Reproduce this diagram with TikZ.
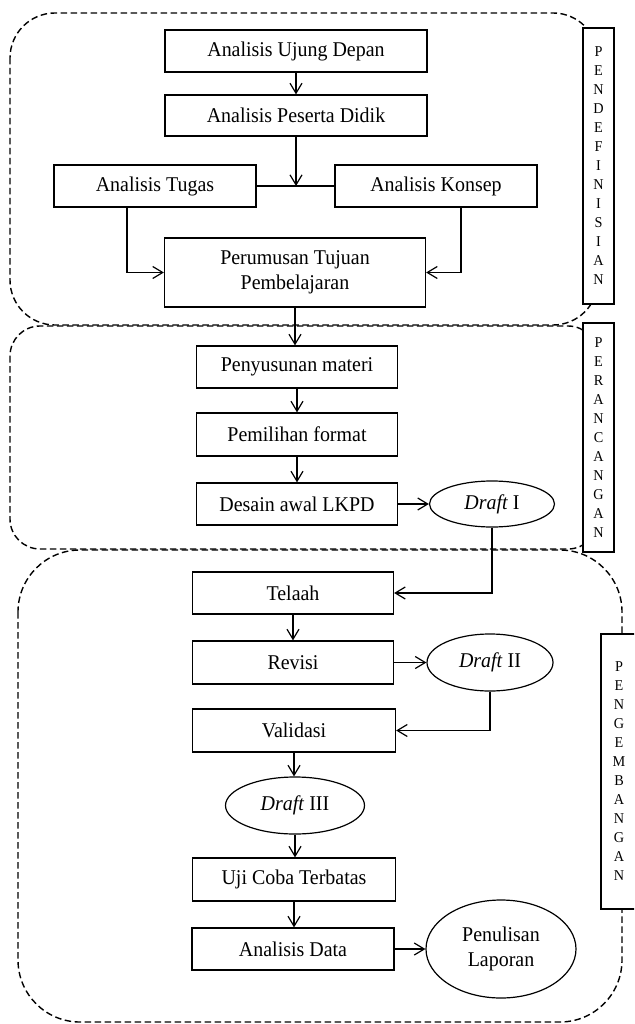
\documentclass[tikz,border=0pt]{standalone}
\usepackage{fontspec}
\setmainfont{Liberation Serif}[FakeStretch=0.95]
\usetikzlibrary{shapes.geometric,arrows.meta}
\begin{document}
\begin{tikzpicture}[x=1pt,y=-1pt,
  box/.style={draw,line width=1.2pt,fill=white,inner sep=0pt,font=\fontsize{21}{25}\selectfont,align=center},
  oval/.style={draw,ellipse,line width=1.2pt,fill=white,inner sep=0pt,font=\fontsize{21}{25}\selectfont,align=center},
  region/.style={draw,line width=1.4pt,dash pattern=on 6.5pt off 3.5pt},
  lab/.style={draw,line width=1.2pt,fill=white,inner sep=0pt,align=center,font=\fontsize{15}{19}\selectfont},
  arr/.style={line width=1.2pt,-{Straight Barb[length=10pt,width=12pt]}},
  ln/.style={line width=1.2pt}]
\clip (0,0) rectangle (634,1024);
\useasboundingbox (0,0) rectangle (634,1024);
% dashed regions
\draw[region,rounded corners=45pt] (10,13) rectangle (598,325);
\draw[region,rounded corners=30pt] (10,326) rectangle (598,549);
\draw[region,rounded corners=62pt] (18,550) rectangle (622,1022);
% side labels
\node[lab,minimum width=31pt,minimum height=276pt] (l1) at (598.5,166) {P\\E\\N\\D\\E\\F\\I\\N\\I\\S\\I\\A\\N};
\node[lab,minimum width=31pt,minimum height=229pt] (l2) at (598.5,437.5) {P\\E\\R\\A\\N\\C\\A\\N\\G\\A\\N};
\node[lab,minimum width=36pt,minimum height=275pt] (l3) at (619,771.5) {P\\E\\N\\G\\E\\M\\B\\A\\N\\G\\A\\N};
% pendefinisian
\node[box,minimum width=262pt,minimum height=42pt] (b1) at (296,51) {Analisis Ujung Depan};
\node[box,minimum width=262pt,minimum height=41pt] (b2) at (296,115.5) {Analisis Peserta Didik};
\node[box,minimum width=202pt,minimum height=42pt] (b3) at (155,186) {Analisis Tugas};
\node[box,minimum width=202pt,minimum height=42pt] (b4) at (436,186) {Analisis Konsep};
\node[box,minimum width=261pt,minimum height=69pt] (b5) at (295,272.5) {Perumusan Tujuan\\Pembelajaran};
% perancangan
\node[box,minimum width=201pt,minimum height=42pt] (b6) at (297,367) {Penyusunan materi};
\node[box,minimum width=201pt,minimum height=43pt] (b7) at (297,434.5) {Pemilihan format};
\node[box,minimum width=201pt,minimum height=42pt] (b8) at (297,504) {Desain awal LKPD};
\node[oval,minimum width=125pt,minimum height=46pt] (e1) at (492,504) {\textit{Draft} I};
% pengembangan
\node[box,minimum width=201pt,minimum height=42pt] (b9) at (293,593) {Telaah};
\node[box,minimum width=201pt,minimum height=43pt] (b10) at (293,662.5) {Revisi};
\node[oval,minimum width=126pt,minimum height=57pt] (e2) at (490,662.5) {\textit{Draft} II};
\node[box,minimum width=203pt,minimum height=43pt] (b11) at (294,730.5) {Validasi};
\node[oval,minimum width=139pt,minimum height=57pt] (e3) at (295,805.5) {\textit{Draft} III};
\node[box,minimum width=203pt,minimum height=43pt] (b12) at (294,879.5) {Uji Coba Terbatas};
\node[box,minimum width=202pt,minimum height=42pt] (b13) at (293,949) {Analisis Data};
\node[oval,minimum width=150pt,minimum height=98pt] (e4) at (501,949) {Penulisan\\Laporan};
% connectors
\draw[arr] (b1) -- (b2);
\draw[ln] (b3.east) -- (b4.west);
\coordinate (j) at (b2.south |- b3.east);
\draw[arr] (b2.south) -- (j);
\draw[arr] ([xshift=-28pt]b3.south) |- (b5.west);
\draw[arr] ([xshift=25pt]b4.south) |- (b5.east);
\draw[arr] (b5.south) -- (b5.south |- b6.north);
\draw[arr] (b6) -- (b7);
\draw[arr] (b7) -- (b8);
\draw[arr] (b8) -- (e1);
\draw[arr] (e1.south) |- (b9.east);
\draw[arr] (b9) -- (b10);
\draw[arr] (b10) -- (e2);
\draw[arr] (e2.south) |- (b11.east);
\draw[arr] (b11.south) -- (b11.south |- e3.north);
\draw[arr] (e3.south) -- (e3.south |- b12.north);
\draw[arr] (b12.south) -- (b12.south |- b13.north);
\draw[arr] (b13) -- (e4);
\end{tikzpicture}
\end{document}
